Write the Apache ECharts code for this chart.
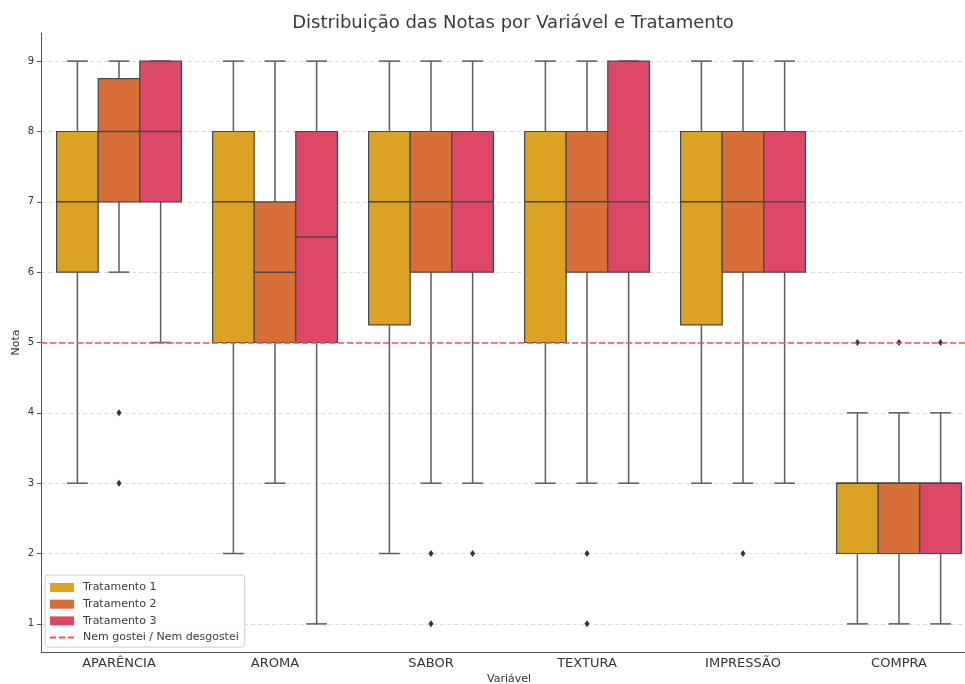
<!DOCTYPE html>
<html>
<head>
<meta charset="utf-8">
<script src="https://cdn.jsdelivr.net/npm/echarts@6/dist/echarts.min.js"></script>
<style>
html, body { margin: 0; padding: 0; background: #fff; }
#grafico { width: 965px; height: 684px; }
</style>
</head>
<body>
<div id="grafico"></div>
<script>
// dados
var variaveis = ['APARÊNCIA', 'AROMA', 'SABOR', 'TEXTURA', 'IMPRESSÃO', 'COMPRA'];
var tratamentos = ['Tratamento 1', 'Tratamento 2', 'Tratamento 3'];
var cores = ['#dca223', '#d86f3a', '#dc4866'];

// [min, Q1, mediana, Q3, max] por variável
var trat1 = [[3, 6, 7, 8, 9], [2, 5, 7, 8, 9], [2, 5.25, 7, 8, 9], [3, 5, 7, 8, 9], [3, 5.25, 7, 8, 9], [1, 2, 3, 3, 4]];
var trat2 = [[6, 7, 8, 8.75, 9], [3, 5, 6, 7, 9], [3, 6, 7, 8, 9], [3, 6, 7, 8, 9], [3, 6, 7, 8, 9], [1, 2, 3, 3, 4]];
var trat3 = [[5, 7, 8, 9, 9], [1, 5, 6.5, 8, 9], [3, 6, 7, 8, 9], [3, 6, 7, 9, 9], [3, 6, 7, 8, 9], [1, 2, 3, 3, 4]];

// outliers: [variável, tratamento, nota]
var outliers = [[0, 1, 4], [0, 1, 3], [2, 1, 2], [2, 1, 1], [2, 2, 2], [3, 1, 2], [3, 1, 1], [4, 1, 2], [5, 0, 5], [5, 1, 5], [5, 2, 5]];

var linhaNeutra = 5;
var nomeLinha = 'Nem gostei / Nem desgostei';
var yTicks = [1, 2, 3, 4, 5, 6, 7, 8, 9];

var myChart = echarts.init(document.getElementById('grafico'));

// caixa de um tratamento (k = 0, 1, 2)
function boxSeries(nome, dados, cor, k) {
    var linhas = [];
    for (var i = 0; i < dados.length; i++) {
        linhas.push([i].concat(dados[i]));
    }
    return {
        name: nome,
        type: 'custom',
        itemStyle: {color: cor},
        encode: {x: 0, y: [1, 2, 3, 4, 5]},
        data: linhas,
        z: 3,
        renderItem: function (params, api) {
            var cat = api.value(0);
            var banda = api.size([1, 0])[0];
            var w = banda * 0.8 / 3;
            var cx = api.coord([cat, 0])[0] + (k - 1) * w;
            var yMin = api.coord([cat, api.value(1)])[1];
            var yQ1 = api.coord([cat, api.value(2)])[1];
            var yMed = api.coord([cat, api.value(3)])[1];
            var yQ3 = api.coord([cat, api.value(4)])[1];
            var yMax = api.coord([cat, api.value(5)])[1];
            var bigode = {stroke: '#5c5c5c', lineWidth: 1.5};
            return {
                type: 'group',
                children: [
                    {type: 'line', shape: {x1: cx, y1: yQ1, x2: cx, y2: yMin}, style: bigode},
                    {type: 'line', shape: {x1: cx, y1: yQ3, x2: cx, y2: yMax}, style: bigode},
                    {type: 'line', shape: {x1: cx - w / 4, y1: yMin, x2: cx + w / 4, y2: yMin}, style: bigode},
                    {type: 'line', shape: {x1: cx - w / 4, y1: yMax, x2: cx + w / 4, y2: yMax}, style: bigode},
                    {type: 'rect', shape: {x: cx - w / 2, y: yQ3, width: w, height: yQ1 - yQ3},
                        style: {fill: cor, stroke: '#474747', lineWidth: 1.2}},
                    {type: 'line', shape: {x1: cx - w / 2, y1: yMed, x2: cx + w / 2, y2: yMed},
                        style: {stroke: '#474747', lineWidth: 1.5}}
                ]
            };
        }
    };
}

option = {
    textStyle: {fontFamily: 'DejaVu Sans'},
    animation: false,
    title: {
        text: 'Distribuição das Notas por Variável e Tratamento',
        left: 508,
        top: 9,
        textAlign: 'center',
        textStyle: {fontSize: 18, fontWeight: 'normal', color: '#3a3a3a', fontFamily: 'DejaVu Sans'}
    },
    legend: {
        orient: 'vertical',
        left: 45,
        top: 575,
        data: [
            {name: tratamentos[0], icon: 'rect'},
            {name: tratamentos[1], icon: 'rect'},
            {name: tratamentos[2], icon: 'rect'},
            {name: nomeLinha, itemStyle: {opacity: 0}}
        ],
        itemWidth: 24,
        itemHeight: 9,
        itemGap: 5.7,
        padding: [7, 6, 4, 4],
        backgroundColor: 'rgba(255,255,255,0.8)',
        borderColor: '#ccc',
        borderWidth: 1,
        borderRadius: 3,
        textStyle: {fontSize: 11, color: '#3a3a3a', padding: [0, 0, 0, 4]}
    },
    grid: {
        left: 41,
        top: 33,
        width: 936,
        height: 619,
        containLabel: false,
        outerBoundsMode: 'none'
    },
    xAxis: {
        type: 'category',
        data: variaveis,
        name: 'Variável',
        nameLocation: 'middle',
        nameGap: 22,
        nameMoveOverlap: false,
        nameTextStyle: {fontSize: 11, color: '#333'},
        axisLine: {onZero: false, lineStyle: {color: '#555'}},
        axisTick: {alignWithLabel: true, inside: true, length: 4, lineStyle: {color: '#555'}},
        axisLabel: {fontSize: 13, color: '#333', margin: 5, interval: 0},
        splitLine: {show: false}
    },
    yAxis: {
        type: 'value',
        min: 0.6,
        max: 9.4,
        splitNumber: 8,
        name: 'Nota',
        nameLocation: 'middle',
        nameGap: 19,
        nameMoveOverlap: false,
        nameTextStyle: {fontSize: 11, color: '#333'},
        axisLine: {show: true, lineStyle: {color: '#555'}},
        axisTick: {show: true, length: 4, lineStyle: {color: '#555'}, customValues: yTicks},
        axisLabel: {fontSize: 10, color: '#333', margin: 7, customValues: yTicks},
        splitLine: {show: true, lineStyle: {color: '#dcdcdc', type: [4, 3]}}
    },
    series: [
        boxSeries(tratamentos[0], trat1, cores[0], 0),
        boxSeries(tratamentos[1], trat2, cores[1], 1),
        boxSeries(tratamentos[2], trat3, cores[2], 2),
        {
            name: 'outliers',
            type: 'custom',
            data: outliers,
            encode: {x: 0, y: 2},
            z: 4,
            renderItem: function (params, api) {
                var banda = api.size([1, 0])[0];
                var w = banda * 0.8 / 3;
                var p = api.coord([api.value(0), api.value(2)]);
                var x = p[0] + (api.value(1) - 1) * w;
                var y = p[1];
                return {
                    type: 'polygon',
                    shape: {points: [[x, y - 3.5], [x + 2.5, y], [x, y + 3.5], [x - 2.5, y]]},
                    style: {fill: '#333'}
                };
            }
        },
        {
            name: nomeLinha,
            type: 'line',
            data: [],
            symbol: 'none',
            lineStyle: {color: '#ff4d4d', type: [6, 3], width: 1.5},
            itemStyle: {color: '#ff4d4d'},
            z: 5,
            markLine: {
                silent: true,
                symbol: ['none', 'none'],
                label: {show: false},
                lineStyle: {color: '#ff4d4d', type: [6, 3], width: 1.5},
                data: [{yAxis: linhaNeutra}]
            }
        }
    ]
};
if (option && typeof option === "object") {
    myChart.setOption(option, true);
}
</script>
</body>
</html>
